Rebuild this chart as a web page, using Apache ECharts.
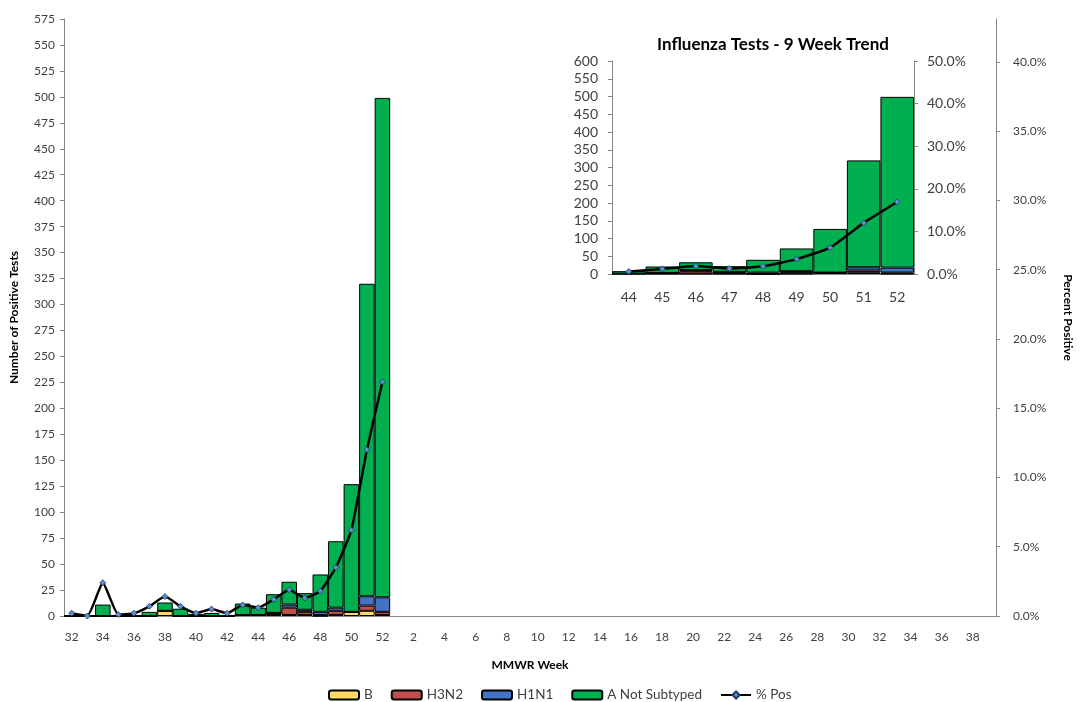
<!DOCTYPE html>
<html>
<head>
<meta charset="utf-8">
<script src="https://cdn.jsdelivr.net/npm/echarts@6/dist/echarts.min.js"></script>
<style>
html,body{margin:0;padding:0;background:#fff;}
#c{width:1082px;height:702px;}
</style>
</head>
<body>
<div id="c"></div>
<script>
// Categories (MMWR weeks)
const weeks = [32,33,34,35,36,37,38,39,40,41,42,43,44,45,46,47,48,49,50,51,52,
  1,2,3,4,5,6,7,8,9,10,11,12,13,14,15,16,17,18,19,20,21,22,23,24,25,26,27,28,29,30,31,32,33,34,35,36,37,38,39];
// Observed data for weeks 32..52
const B_vals    = [0,0,0,0,0,0,5,0,0,0,0,1,1,1,1,1,0,1,4,5,1];
const H3N2_vals = [0,0,0,0,0,0,0,0,0,0,0,0,0,2,7,3,1,4,0,5,3];
const H1N1_vals = [0,0,0,0,0,0,0,0,0,0,0,0,0,0,3,2,3,3,0,9,14];
const ANS_vals  = [0,0,11,0,1,4,8,7,2,3,1,11,7,18,22,16,36,64,123,301,481];
const pctPos    = [0.2,0.0,2.4,0.1,0.2,0.7,1.4,0.7,0.2,0.5,0.2,0.8,0.6,1.2,1.9,1.3,1.8,3.5,6.2,12.0,16.9];
// Inset: last 9 weeks
const insetWeeks = ['44','45','46','47','48','49','50','51','52'];
const leftTicksMain = {min:0, max:575, interval:25};
const rightTicksMain = {min:0, max:43.1, interval:5};
const leftTicksInset = {min:0, max:600, interval:50};
const rightTicksInset = {min:0, max:50, interval:10};

const pad = arr => arr.concat(new Array(weeks.length - arr.length).fill(null));
const last9 = arr => arr.slice(arr.length - 9);

const FONT = 'Lato';
const colors = {B:'#FFD966', H3N2:'#C0504D', H1N1:'#4472C4', ANS:'#00B050'};
const axisGray = '#868686';
const txt = '#404040';

function barSeries(name, data, xi, yi, color){
  return {
    name, type:'bar', stack: 'st'+xi, xAxisIndex: xi, yAxisIndex: yi,
    data, barCategoryGap:'0%',
    itemStyle:{color, borderColor:'#000', borderWidth:1},
    emphasis:{disabled:true}, animation:false
  };
}
function lineSeries(data, xi, yi){
  return {
    name:'% Pos', type:'line', xAxisIndex:xi, yAxisIndex:yi, data,
    smooth:0.15, symbol:'diamond', symbolSize:6,
    lineStyle:{color:'#000', width:2.5},
    itemStyle:{color:'#5B8FD0', borderColor:'#1F3864', borderWidth:0.8},
    z:5, animation:false, connectNulls:false
  };
}

const axisLabelStyle = {color:txt, fontFamily:FONT, fontSize:12};
const insetLabelStyle = {color:txt, fontFamily:FONT, fontSize:14};

const option = {
  backgroundColor:'#fff',
  animation:false,
  textStyle:{fontFamily:FONT},
  title:{
    text:'Influenza Tests - 9 Week Trend', left:768, top:31, textAlign:'center',
    textStyle:{fontFamily:FONT, fontSize:17, fontWeight:'bold', color:'#000'}
  },
  legend:{
    top:683, left:323, itemWidth:30, itemHeight:9, itemGap:18,
    textStyle:{fontFamily:FONT, fontSize:13.5, color:txt},
    data:['B','H3N2','H1N1','A Not Subtyped','% Pos']
  },
  grid:[
    {left:64, right:72, top:19, bottom:86},
    {left:612, right:168, top:61, bottom:428}
  ],
  xAxis:[
    {type:'category', gridIndex:0, data:weeks.map(String),
     axisLine:{lineStyle:{color:axisGray}},
     axisTick:{interval:0, length:5, lineStyle:{color:axisGray}},
     axisLabel:Object.assign({interval:1, margin:15}, axisLabelStyle),
     name:'MMWR Week', nameLocation:'middle', nameGap:43,
     nameTextStyle:{fontFamily:FONT, fontSize:12, fontWeight:'bold', color:'#000'}},
    {type:'category', gridIndex:1, data:insetWeeks,
     axisLine:{lineStyle:{color:axisGray}},
     axisTick:{interval:0, length:5, lineStyle:{color:axisGray}},
     axisLabel:Object.assign({interval:0, margin:16}, insetLabelStyle)}
  ],
  yAxis:[
    {type:'value', gridIndex:0, min:leftTicksMain.min, max:leftTicksMain.max, interval:leftTicksMain.interval,
     splitLine:{show:false},
     axisLine:{show:true, lineStyle:{color:axisGray}},
     axisTick:{show:true, length:4, lineStyle:{color:axisGray}},
     axisLabel:Object.assign({margin:9}, axisLabelStyle),
     name:'Number of Positive Tests', nameLocation:'middle', nameGap:44, nameRotate:90,
     nameTextStyle:{fontFamily:FONT, fontSize:12, fontWeight:'bold', color:'#000'}},
    {type:'value', gridIndex:0, position:'right', min:rightTicksMain.min, max:rightTicksMain.max, interval:rightTicksMain.interval,
     splitLine:{show:false},
     axisLine:{show:true, lineStyle:{color:axisGray}},
     axisTick:{show:true, length:4, lineStyle:{color:axisGray}},
     axisLabel:Object.assign({margin:17, showMaxLabel:false, formatter:v=>v.toFixed(1)+'%'}, axisLabelStyle),
     name:'Percent Positive', nameLocation:'middle', nameGap:66, nameRotate:-90,
     nameTextStyle:{fontFamily:FONT, fontSize:12, fontWeight:'bold', color:'#000'}},
    {type:'value', gridIndex:1, min:leftTicksInset.min, max:leftTicksInset.max, interval:leftTicksInset.interval,
     splitLine:{show:false},
     axisLine:{show:true, lineStyle:{color:axisGray}},
     axisTick:{show:true, length:4, lineStyle:{color:axisGray}},
     axisLabel:Object.assign({margin:14}, insetLabelStyle)},
    {type:'value', gridIndex:1, position:'right', min:rightTicksInset.min, max:rightTicksInset.max, interval:rightTicksInset.interval,
     splitLine:{show:false},
     axisLine:{show:true, lineStyle:{color:axisGray}},
     axisTick:{show:true, length:4, lineStyle:{color:axisGray}},
     axisLabel:Object.assign({margin:13, formatter:v=>v.toFixed(1)+'%'}, insetLabelStyle)}
  ],
  series:[
    barSeries('B', pad(B_vals), 0, 0, colors.B),
    barSeries('H3N2', pad(H3N2_vals), 0, 0, colors.H3N2),
    barSeries('H1N1', pad(H1N1_vals), 0, 0, colors.H1N1),
    barSeries('A Not Subtyped', pad(ANS_vals), 0, 0, colors.ANS),
    lineSeries(pad(pctPos), 0, 1),
    barSeries('B', last9(B_vals), 1, 2, colors.B),
    barSeries('H3N2', last9(H3N2_vals), 1, 2, colors.H3N2),
    barSeries('H1N1', last9(H1N1_vals), 1, 2, colors.H1N1),
    barSeries('A Not Subtyped', last9(ANS_vals), 1, 2, colors.ANS),
    lineSeries(last9(pctPos), 1, 3)
  ]
};
const chart = echarts.init(document.getElementById('c'), null, {renderer:'canvas'});
chart.setOption(option);
</script>
</body>
</html>
